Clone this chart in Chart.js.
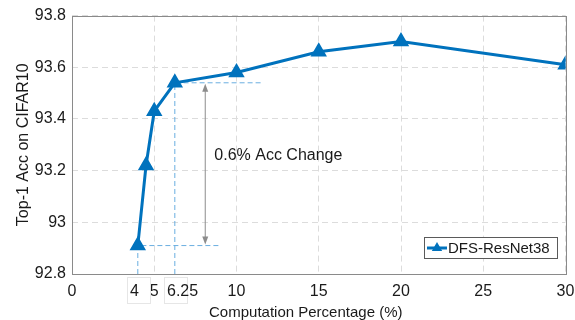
<!DOCTYPE html>
<html>
<head>
<meta charset="utf-8">
<script src="https://cdn.jsdelivr.net/npm/chart.js@4.4.0/dist/chart.umd.min.js"></script>
<style>
  html, body { margin: 0; padding: 0; background: #fff; }
  #wrap { width: 575px; height: 320px; }
</style>
</head>
<body>
<div id="wrap"><canvas id="accChart" width="575" height="320"></canvas></div>
<script>
// data
const computation = [4, 4.5, 5, 6.25, 10, 15, 20, 30];
const accuracy = [92.91, 93.22, 93.43, 93.54, 93.58, 93.66, 93.70, 93.61];
const xTicks = [0, 5, 10, 15, 20, 25, 30];
const yTicks = [92.8, 93, 93.2, 93.4, 93.6, 93.8];
const boxedLabels = ['4', '6.25'];
// dashed guide lines: start point (x, y) and where the horizontal part ends
const guideX = [4, 6.25];
const guideY = [92.91, 93.54];
const guideEnd = [9, 11.6];
const arrowX = 8.1;
const noteText = '0.6% Acc Change';
const noteX = 8.65;
const noteY = 93.26;
const xTitle = 'Computation Percentage (%)';

const fontFamily = "'Liberation Sans', Arial, sans-serif";
const blue = '#0072BD';

function triangle(ctx, x, y, r) {
    ctx.beginPath();
    ctx.moveTo(x, y - r);
    ctx.lineTo(x + r * 0.866, y + r * 0.5);
    ctx.lineTo(x - r * 0.866, y + r * 0.5);
    ctx.closePath();
    ctx.fill();
}

const overlay = {
    id: 'overlay',
    beforeDatasetsDraw(chart) {
        const ctx = chart.ctx;
        const xs = chart.scales.x, ys = chart.scales.y;
        const bottom = chart.chartArea.bottom;
        ctx.save();
        // guide lines
        ctx.strokeStyle = '#6aaee0';
        ctx.lineWidth = 1;
        ctx.setLineDash([5, 3]);
        for (let i = 0; i < guideX.length; i++) {
            const px = xs.getPixelForValue(guideX[i]);
            const py = ys.getPixelForValue(guideY[i]);
            ctx.beginPath();
            ctx.moveTo(px, bottom);
            ctx.lineTo(px, py);
            ctx.lineTo(xs.getPixelForValue(guideEnd[i]), py);
            ctx.stroke();
        }
        ctx.setLineDash([]);
        // double arrow
        const ax = xs.getPixelForValue(arrowX);
        const aTop = ys.getPixelForValue(guideY[1]) + 1;
        const aBot = ys.getPixelForValue(guideY[0]) - 1;
        ctx.strokeStyle = '#8c8c8c';
        ctx.fillStyle = '#8c8c8c';
        ctx.beginPath();
        ctx.moveTo(ax, aTop + 4);
        ctx.lineTo(ax, aBot - 4);
        ctx.stroke();
        ctx.beginPath();
        ctx.moveTo(ax, aTop);
        ctx.lineTo(ax - 3, aTop + 8);
        ctx.lineTo(ax + 3, aTop + 8);
        ctx.closePath();
        ctx.fill();
        ctx.beginPath();
        ctx.moveTo(ax, aBot);
        ctx.lineTo(ax - 3, aBot - 8);
        ctx.lineTo(ax + 3, aBot - 8);
        ctx.closePath();
        ctx.fill();
        // note
        ctx.fillStyle = '#1a1a1a';
        ctx.font = '16px ' + fontFamily;
        ctx.textAlign = 'left';
        ctx.textBaseline = 'middle';
        ctx.fillText(noteText, xs.getPixelForValue(noteX), ys.getPixelForValue(noteY));
        ctx.restore();
    },
    afterDraw(chart) {
        const ctx = chart.ctx;
        const area = chart.chartArea;
        const xs = chart.scales.x;
        ctx.save();
        // axes box
        ctx.strokeStyle = '#8a8a8a';
        ctx.lineWidth = 1;
        ctx.strokeRect(Math.round(area.left) + 0.5, Math.round(area.top) + 0.5,
            Math.round(area.right - area.left), Math.round(area.bottom - area.top));
        // boxed extra tick labels
        ctx.font = '16px ' + fontFamily;
        ctx.textBaseline = 'middle';
        ctx.textAlign = 'left';
        for (let i = 0; i < boxedLabels.length; i++) {
            const px = xs.getPixelForValue(parseFloat(boxedLabels[i]));
            const left = Math.round(px) - 11;
            ctx.strokeStyle = '#e6e6e6';
            ctx.strokeRect(left + 0.5, area.bottom + 3.5, 23, 26);
            ctx.fillStyle = '#1a1a1a';
            ctx.fillText(boxedLabels[i], left + 3, area.bottom + 18);
        }
        // x title (sits a little left of the axes centre in the original)
        ctx.font = '15px ' + fontFamily;
        ctx.textAlign = 'center';
        ctx.fillText(xTitle, (area.left + area.right) / 2 - 13, area.bottom + 39);
        // legend
        const lx = 424, ly = 237, lw = 133, lh = 21;
        ctx.fillStyle = '#fff';
        ctx.fillRect(lx, ly, lw, lh);
        ctx.strokeStyle = '#5a5a5a';
        ctx.strokeRect(lx + 0.5, ly + 0.5, lw, lh);
        const my = ly + lh / 2 + 0.5;
        ctx.strokeStyle = blue;
        ctx.lineWidth = 3;
        ctx.beginPath();
        ctx.moveTo(lx + 3, my);
        ctx.lineTo(lx + 23, my);
        ctx.stroke();
        ctx.fillStyle = blue;
        triangle(ctx, lx + 13, my, 6);
        ctx.fillStyle = '#1a1a1a';
        ctx.font = '15px ' + fontFamily;
        ctx.textAlign = 'left';
        ctx.fillText(chart.data.datasets[0].label, lx + 24, my + 1);
        ctx.restore();
    }
};

const ctx = document.getElementById('accChart').getContext('2d');
const accChart = new Chart(ctx, {
    type: 'line',
    data: {
        datasets: [{
            label: 'DFS-ResNet38',
            data: computation.map((c, i) => ({ x: c, y: accuracy[i] })),
            borderColor: blue,
            backgroundColor: blue,
            borderWidth: 3,
            pointStyle: 'triangle',
            pointRadius: 6.5,
            pointHoverRadius: 6.5,
            tension: 0
        }]
    },
    options: {
        responsive: false,
        animation: false,
        devicePixelRatio: 1,
        layout: { padding: { top: 15, right: 9, left: 0, bottom: 0 } },
        plugins: {
            legend: { display: false },
            tooltip: { enabled: false }
        },
        scales: {
            x: {
                type: 'linear',
                min: 0,
                max: 30,
                afterBuildTicks: s => { s.ticks = xTicks.map(v => ({ value: v })); },
                afterFit: s => { s.height = 46; s.paddingRight = 0; s.paddingLeft = 0; },
                ticks: {
                    color: '#1a1a1a',
                    font: { family: fontFamily, size: 16 },
                    padding: 8,
                    maxRotation: 0,
                    callback: v => String(v)
                },
                grid: { color: '#dcdcdc', drawTicks: false },
                border: { display: false, dash: [6, 4] }
            },
            y: {
                min: 92.8,
                max: 93.8,
                afterBuildTicks: s => { s.ticks = yTicks.map(v => ({ value: v })); },
                afterFit: s => { s.width = 72; },
                ticks: {
                    color: '#1a1a1a',
                    font: { family: fontFamily, size: 16 },
                    padding: 6,
                    callback: v => String(v)
                },
                grid: { color: '#dcdcdc', drawTicks: false },
                border: { display: false, dash: [6, 4] },
                title: {
                    display: true,
                    text: 'Top-1 Acc on CIFAR10',
                    color: '#1a1a1a',
                    font: { family: fontFamily, size: 16 },
                    padding: { top: 14, bottom: 0 }
                }
            }
        }
    },
    plugins: [overlay]
});
</script>
</body>
</html>
